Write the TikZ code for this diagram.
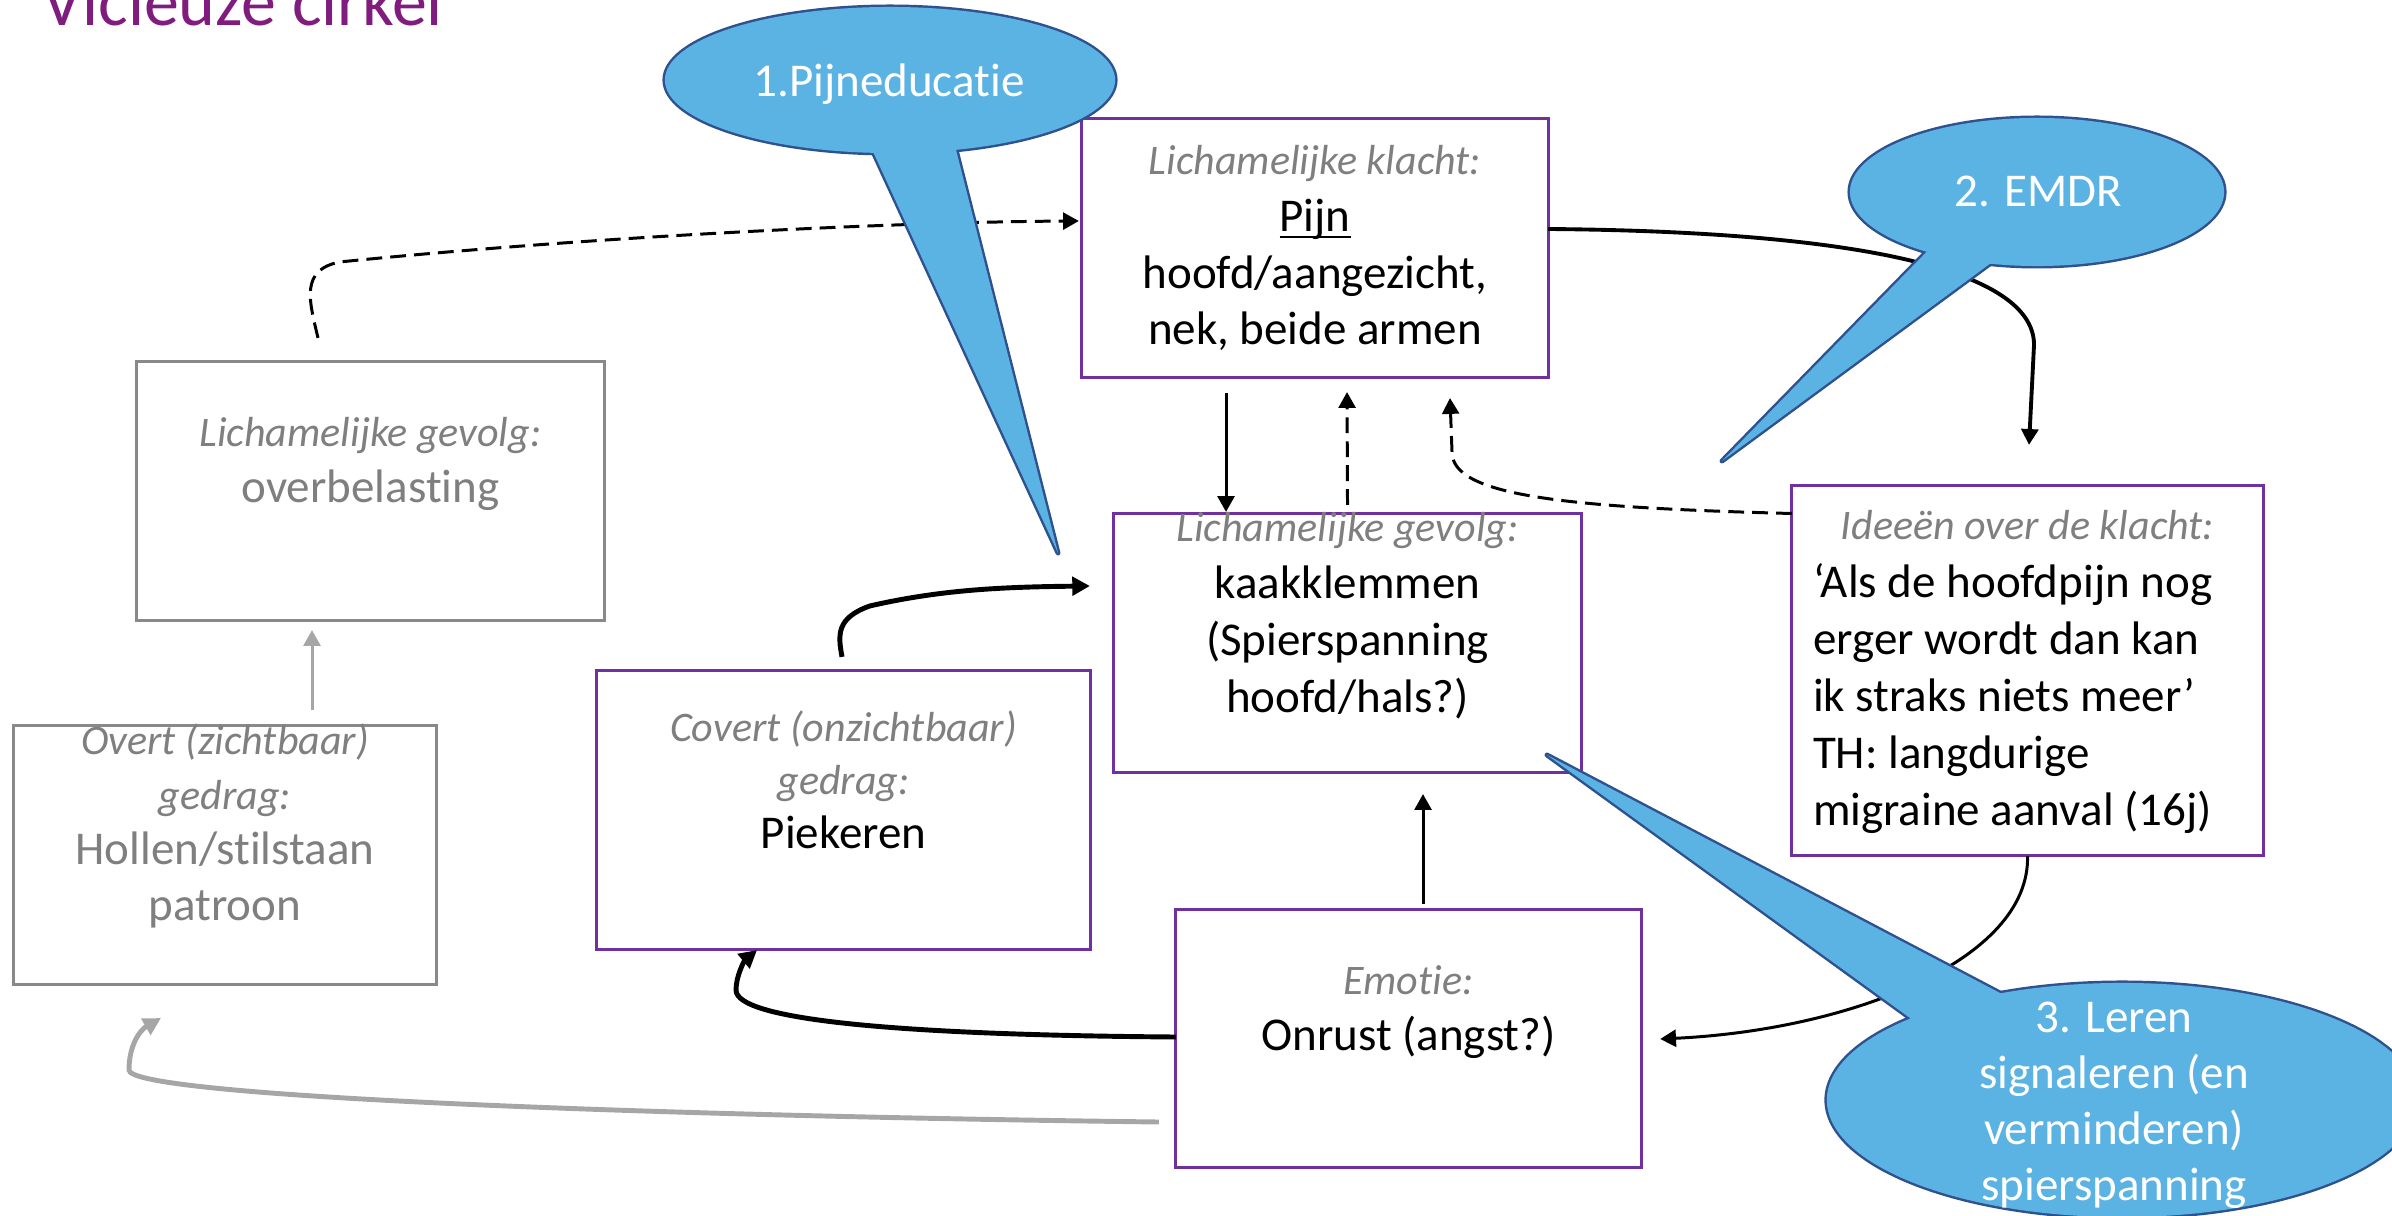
\documentclass[tikz,border=0pt]{standalone}
\usepackage{fontspec}
\setmainfont{Carlito}[Ligatures={NoCommon}]
\usetikzlibrary{arrows.meta,calc}

\definecolor{boxpurple}{RGB}{112,48,160}
\definecolor{boxgrey}{RGB}{137,137,137}
\definecolor{labgrey}{RGB}{127,127,127}
\definecolor{bubblefill}{RGB}{91,179,227}
\definecolor{bubbleline}{RGB}{47,82,143}
\definecolor{titlepurple}{RGB}{128,28,125}
\definecolor{linkgrey}{RGB}{166,166,166}

% italic grey heading inside a box
\newcommand\lab[1]{{\fontsize{11.95pt}{16pt}\selectfont\itshape\color{labgrey}#1}}
% body size with a chosen line distance
\newcommand\lsk[1]{\fontsize{13.37pt}{#1}\selectfont}
% underline placed just below the baseline
\newcommand\undl[1]{\setbox0\hbox{#1}\rlap{\rule[-2.1pt]{\wd0}{0.7pt}}\box0}

\begin{document}
\begin{tikzpicture}[x=0.01cm,y=-0.01cm,
  pbox/.style={draw=boxpurple,line width=0.85pt,fill=white,inner sep=0pt,outer sep=0pt},
  gbox/.style={draw=boxgrey,line width=0.85pt,fill=white,inner sep=0pt,outer sep=0pt},
  % multi-line texts are placed by the baseline of their last line
  txt/.style={inner sep=0pt,outer sep=0pt,align=center,anchor=base,font=\lsk{16.2pt}},
  btxt/.style={txt,text=white},
  link/.style={line width=0.85pt,-{Triangle[length=4.5pt,width=4.8pt]}},
  heavy/.style={line width=1.4pt,-{Triangle[length=5pt,width=5.2pt]}},
  dlink/.style={link,dash pattern=on 4.5pt off 2.3pt},
  glink/.style={heavy,color=linkgrey},
  glinkthin/.style={link,color=linkgrey},
  bubbleedge/.style={draw=bubbleline,line width=1.4pt,line join=round},
  bubblebody/.style={fill=bubblefill},
]
\useasboundingbox (0,0) rectangle (2392,1216);

% title
\node[anchor=base west,inner sep=0pt,text=titlepurple,
      font=\fontsize{19.9pt}{24pt}\selectfont] (title) at (42,26) {Vicieuze cirkel};

% boxes
\node[pbox,minimum width=4.66cm,minimum height=2.58cm] (pijn)   at (1315,248) {};
\node[gbox,minimum width=4.67cm,minimum height=2.58cm] (overb)  at (370.5,491) {};
\node[pbox,minimum width=4.67cm,minimum height=2.58cm] (kaak)   at (1347.5,643) {};
\node[pbox,minimum width=4.71cm,minimum height=3.69cm] (idee)   at (2027.5,670.5) {};
\node[pbox,minimum width=4.93cm,minimum height=2.78cm] (covert) at (843.5,810) {};
\node[gbox,minimum width=4.22cm,minimum height=2.58cm] (overt)  at (225,855) {};
\node[pbox,minimum width=4.65cm,minimum height=2.57cm] (emotie) at (1408.5,1038.5) {};

% box texts
\node[txt] (pijnT) at (1315,345)
  {\lab{Lichamelijke klacht:}\\\undl{Pijn}\\hoofd/aangezicht,\\nek, beide armen};
\node[txt,text=labgrey,font=\lsk{15.65pt}] (overbT) at (370.5,502)
  {\lab{Lichamelijke gevolg:}\\overbelasting};
\node[txt] (kaakT) at (1347.5,712)
  {\lab{Lichamelijke gevolg:}\\kaakklemmen\\(Spierspanning\\hoofd/hals?)};
\node[txt] (ideeL) at (2027.5,540) {\lab{Ideeën over de klacht:}};
\node[txt,align=left,anchor=base west] (ideeT) at (1813,825)
  {‘Als de hoofdpijn nog\\erger wordt dan kan\\ik straks niets meer’\\TH: langdurige\\migraine aanval (16j)};
\node[txt,font=\lsk{15.1pt}] (covertT) at (843.5,848)
  {\lab{Covert (onzichtbaar)}\\\lab{gedrag:}\\Piekeren};
\node[txt,text=labgrey,font=\lsk{15.65pt}] (overtT) at (225,920)
  {\lab{Overt (zichtbaar)}\\\lab{gedrag:}\\Hollen/stilstaan\\patroon};
\node[txt,font=\lsk{15.65pt}] (emotieT) at (1408.5,1050)
  {\lab{Emotie:}\\Onrust (angst?)};

% connectors
\coordinate (eBend) at ($(overb.north)+(-30.5,-100)$);
\draw[link,line width=1.1pt] ($(pijn.east)+(0,-19)$) .. controls +(352,3) and +(0,-65) ..
  ($(idee.north)+(6.5,-141)$) -- ($(idee.north)+(1.5,-41)$);
\draw[link] ($(pijn.south)+(-89,16)$) -- ($(kaak.north)+(-121.5,-2)$);
\draw[dlink] ($(kaak.north)+(0,-9)$) -- ($(pijn.south)+(32,15)$);
\draw[dlink] ($(idee.west)+(0,-157)$) .. controls +(-232,-6) and +(0,43) ..
  ($(pijn.south)+(137,75)$) -- ($(pijn.south)+(135,21)$);
\draw[dlink] ($(overb.north)+(-52.5,-24)$) .. controls +(-9,-38) and +(-40,8) ..
  (eBend) .. controls +(260,-26) and +(-180,1) .. ($(pijn.west)+(-3,-27)$);
\draw[link] ($(emotie.north)+(14.5,-6)$) -- ($(kaak.south)+(75.5,22)$);
\draw[link] ($(idee.south)+(0,1)$) .. controls +(2.5,104) and +(190,-9) ..
  ($(emotie.east)+(19,0.5)$);
\draw[heavy] ($(emotie.west)+(0,-1.5)$) .. controls +(-276,-2) and +(0,30) ..
  ($(covert.south)+(-107.5,41)$) .. controls +(0,-15) and +(-12,10) ..
  ($(covert.south)+(-86.5,1)$);
\draw[heavy] ($(covert.north)+(-1.5,-14)$) .. controls +(-4,-22) and +(-34,12) ..
  ($(covert.north)+(26.5,-65)$) .. controls +(70,-16) and +(-90,1) ..
  ($(kaak.west)+(-24,-57)$);
\draw[glink] ($(emotie.west)+(-17,83.5)$) .. controls +(-559,-7) and +(1,25) ..
  ($(overt.south)+(-96,86)$) .. controls +(0,-25) and +(-21,12) ..
  ($(overt.south)+(-64,34)$);
\draw[glinkthin] ($(overt.north)+(87,-16)$) -- ($(overb.south)+(-58.5,10)$);

% speech bubbles: outline first, body on top so only the outer edge stays
\path[bubbleedge] (890,80) ellipse [x radius=2.25cm,y radius=0.73cm];
\path[bubbleedge] (863,130) -- (1058,553) -- (951,130) -- cycle;
\path[bubblebody] (890,80) ellipse [x radius=2.25cm,y radius=0.73cm];
\path[bubblebody] (863,130) -- (1058,553) -- (951,130) -- cycle;
\node[btxt] (eduT) at (889,97) {1.Pijneducatie};

\path[bubbleedge] (2037,192) ellipse [x radius=1.87cm,y radius=0.74cm];
\path[bubbleedge] (1943,235) -- (1722,461) -- (2029,235) -- cycle;
\path[bubblebody] (2037,192) ellipse [x radius=1.87cm,y radius=0.74cm];
\path[bubblebody] (1943,235) -- (1722,461) -- (2029,235) -- cycle;
\node[btxt] (emdrT) at (2038,207) {2. EMDR};

\path[bubbleedge] (2122,1100) ellipse [x radius=2.95cm,y radius=1.17cm];
\path[bubbleedge] (1950,1047) -- (1547,755) -- (2040,1014) -- cycle;
\path[bubblebody] (2122,1100) ellipse [x radius=2.95cm,y radius=1.17cm];
\path[bubblebody] (1950,1047) -- (1547,755) -- (2040,1014) -- cycle;
\node[btxt,font=\lsk{15.9pt}] (lerenT) at (2114,1200)
  {3. Leren\\signaleren (en\\verminderen)\\spierspanning};
\end{tikzpicture}
\end{document}
